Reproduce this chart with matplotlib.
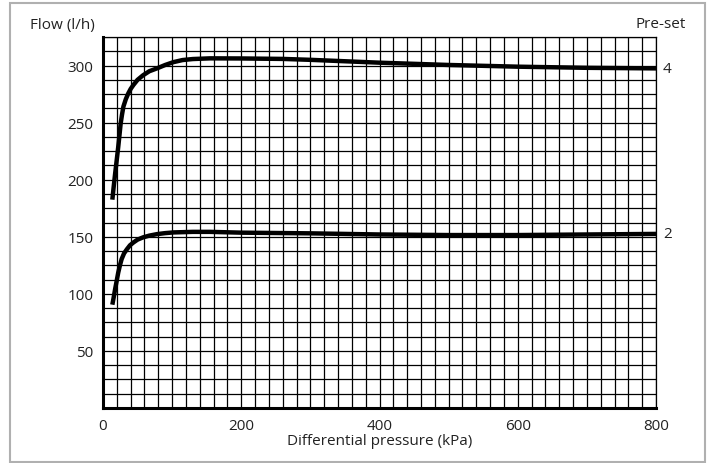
import matplotlib
matplotlib.use("Agg")
import matplotlib.pyplot as plt
from matplotlib.patches import Rectangle

plt.rcParams['font.family'] = ['Open Sans', 'DejaVu Sans']

# pre-set 4
p4_x = [13.5, 15.5, 17.5, 20, 22, 24, 25.5, 27.5, 29.5, 33, 36.5, 40, 44, 50, 58, 67, 78, 90, 102, 115, 130, 155, 200, 260, 300, 400, 500, 600, 700, 800]
p4_y = [182.5, 194, 205, 218, 228.5, 240, 249, 257, 264, 270.5, 275.5, 279.5, 283, 287.5, 291.5, 295, 297.5, 300.5, 303, 304.8, 305.7, 306.3, 306.2, 305.8, 305, 302.5, 300.5, 299, 298, 297.5]
# pre-set 2
p2_x = [13.5, 15.5, 17.5, 20, 22, 24.5, 27, 30.5, 34.5, 39, 44, 50, 58, 67, 78, 90, 102, 130, 155, 200, 300, 400, 500, 600, 700, 800]
p2_y = [90.5, 97, 104, 112, 118.5, 125, 130.5, 135.5, 139, 142.5, 145, 147.5, 149.5, 151, 152.3, 153.2, 153.8, 154.3, 154.3, 153.6, 153, 152, 151.5, 151.5, 152, 152.5]

x_ticks = [0, 200, 400, 600, 800]
y_ticks = [50, 100, 150, 200, 250, 300]

fig = plt.figure(figsize=(7.12, 4.64), dpi=100)
fig.patches.append(Rectangle((10 / 712, 1 / 464), 695 / 712, 459 / 464, transform=fig.transFigure,
                             fill=False, edgecolor='#b0b0b0', lw=1.5))
ax = fig.add_axes([103 / 712, 55 / 464, 553 / 712, 371 / 464])

ax.set_xlim(0, 800)
ax.set_ylim(0, 325)
for gx in range(0, 801, 20):
    ax.axvline(gx, color='black', lw=0.9, zorder=1)
for gy in [i * 12.5 for i in range(27)]:
    ax.axhline(gy, color='black', lw=0.9, zorder=1)

ax.plot(p4_x, p4_y, color='black', lw=3.2, solid_capstyle='butt', solid_joinstyle='round', zorder=3)
ax.plot(p2_x, p2_y, color='black', lw=3.2, solid_capstyle='butt', solid_joinstyle='round', zorder=3)

for side in ['top', 'right']:
    ax.spines[side].set_linewidth(0.9)
for side in ['left', 'bottom']:
    ax.spines[side].set_linewidth(2.2)

ax.set_xticks(x_ticks)
ax.set_yticks(y_ticks)
ax.tick_params(length=0, labelsize=11, colors='#222222', pad=7)
ax.set_xlabel('Differential pressure (kPa)', fontsize=11, color='#222222', labelpad=0)

fig.text(30 / 712, 1 - 25 / 464, 'Flow (l/h)', fontsize=11, color='#222222', va='center', ha='left')
fig.text(686 / 712, 1 - 25 / 464, 'Pre-set', fontsize=11, color='#222222', va='center', ha='right')
ax.text(810, p4_y[-1], '4', fontsize=11, color='#222222', va='center', ha='left', clip_on=False)
ax.text(810, p2_y[-1], '2', fontsize=11, color='#222222', va='center', ha='left', clip_on=False)

fig.savefig('out.png', dpi=100)
